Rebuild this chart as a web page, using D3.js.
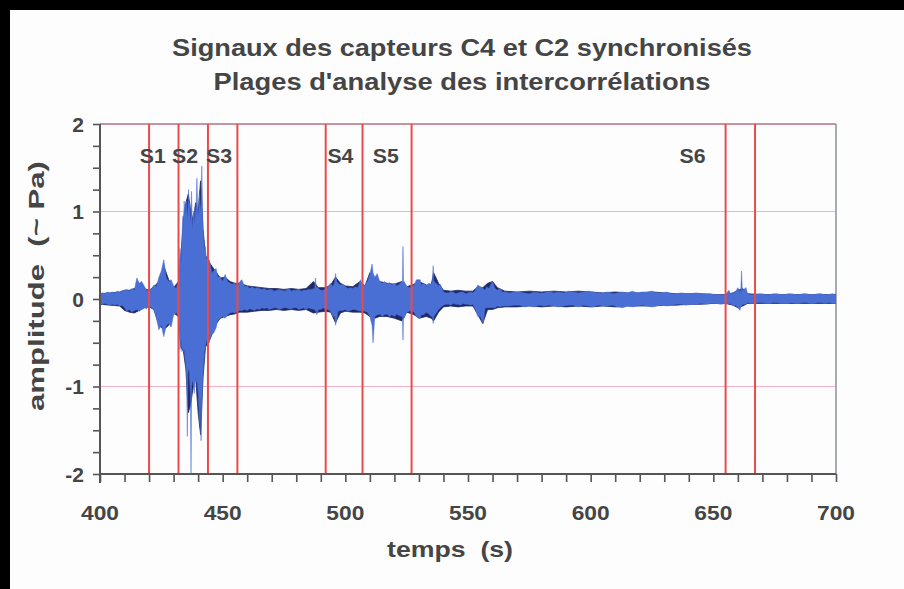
<!DOCTYPE html>
<html><head><meta charset="utf-8">
<script src="https://cdn.jsdelivr.net/npm/d3@7"></script>
<style>
html,body{margin:0;padding:0;background:#fdfdfd;width:904px;height:589px;overflow:hidden;}
svg{display:block;position:absolute;left:0;top:0;}
text{font-family:"Liberation Sans",Arial,sans-serif;font-weight:bold;fill:#454545;white-space:pre;}
</style></head><body>
<svg id="c" width="904" height="589"></svg>
<script>
// ---- data ----
const titleLines = ["Signaux des capteurs C4 et C2 synchronisés", "Plages d'analyse des intercorrélations"];
const xLabel = "temps  (s)";
const yLabel = "amplitude  (~ Pa)";
const xTickLabels = [400, 450, 500, 550, 600, 650, 700];
const yTickLabels = [-2, -1, 0, 1, 2];
const rangeBounds = [420, 432, 444, 456, 492, 507, 527, 655, 667];
const rangeNames = ["S1", "S2", "S3", "S4", "S5", "S6"];
const rangeNamePos = [421.5, 434.7, 448.5, 498, 516.5, 641.5];

// C2 (blue) signal envelope: [time (s), max, min] amplitude (Pa)
const blueSignal = [
 [400,.06,-.05],[401,.07,-.06],[402,.06,-.05],[403,.08,-.06],[404,.07,-.07],[405,.08,-.06],[406,.07,-.07],[407,.09,-.06],
 [408,.08,-.08],[409,.09,-.07],[410,.1,-.1],[411,.11,-.14],[412,.09,-.12],[413,.12,-.15],[414,.1,-.13],[415,.24,-.12],
 [416,.18,-.14],[417,.2,-.12],[418,.15,-.1],[419,.1,-.11],[420,.09,-.08],[421,.12,-.1],[422,.16,-.13],[423,.14,-.22],
 [424,.25,-.35],[425,.32,-.3],[426,.45,-.43],[427,.24,-.3],[428,.2,-.28],[429,.22,-.32],[430,.15,-.18],[431,.12,-.16],
 [432.0,.2,-.18],[432.3,.35,-.3],[432.6,.58,-.58],[433.0,.4,-.45],[433.4,.7,-.6],[433.8,.95,-.55],[434.0,.8,-.6],
 [434.3,1.12,-.58],[434.7,.95,-.69],[435.0,1.1,-.75],[435.3,1.12,-.9],[435.6,.9,-1.57],[435.8,1.0,-.85],[436.1,1.25,-.8],
 [436.3,1.0,-.8],[436.6,1.1,-.95],[436.9,.85,-1.1],[437.1,.95,-1.99],[437.3,1.23,-1.0],[437.6,.9,-.95],[437.8,.8,-.93],
 [438.1,1.0,-1.0],[438.4,.85,-1.08],[438.7,1.05,-.95],[439.0,.9,-.9],[439.3,1.15,-.95],[439.5,1.38,-.93],[439.8,1.0,-1.0],
 [440.1,.95,-1.1],[440.5,1.2,-1.42],[440.8,1.0,-1.1],[441.2,1.1,-1.62],[441.5,1.52,-1.2],[441.9,.85,-.9],[442.2,.7,-.75],
 [442.6,.55,-.6],[442.9,.6,-.55],[443.3,.45,-.5],[443.7,.48,-.45],[444.1,.35,-.4],[444.5,.45,-.5],[444.9,.4,-.45],
 [445.6,.3,-.4],[446.3,.32,-.39],[447.3,.35,-.33],[448,.25,-.25],[448.9,.26,-.22],[450,.2,-.2],[451,.28,-.22],[452,.2,-.18],
 [453,.18,-.16],[454,.17,-.15],[455,.18,-.16],[456,.15,-.14],[457,.2,-.13],[457.8,.22,-.13],[459,.14,-.12],[460,.15,-.13],
 [461,.12,-.11],[462,.14,-.12],[463,.12,-.13],[464,.13,-.11],[465,.12,-.12],[466,.11,-.1],[467,.12,-.11],[468,.1,-.1],
 [469,.11,-.12],[470,.11,-.11],[471,.09,-.1],[472,.1,-.1],[473,.11,-.12],[474,.1,-.11],[475,.09,-.1],[476,.1,-.1],
 [477,.12,-.11],[478,.09,-.11],[479,.1,-.1],[480,.1,-.1],[481,.11,-.12],[482,.09,-.11],[483,.1,-.1],[484,.1,-.12],
 [485,.11,-.1],[486,.11,-.11],[487.5,.12,-.12],[487.8,.24,-.14],[488.1,.12,-.13],[488.4,.14,-.18],[489,.12,-.12],[490,.1,-.12],
 [491,.1,-.1],[492,.12,-.12],[493,.14,-.12],[493.9,.18,-.14],[495,.14,-.2],[495.7,.2,-.2],[496,.29,-.3],[496.5,.2,-.24],
 [497,.18,-.14],[498,.16,-.13],[499,.17,-.13],[500,.14,-.12],[501,.12,-.14],[502,.13,-.13],[503,.12,-.12],[504,.14,-.12],
 [505,.13,-.13],[506.2,.22,-.14],[507,.15,-.13],[508,.16,-.14],[509,.2,-.15],[510,.28,-.2],[510.9,.4,-.3],[511.3,.3,-.5],
 [512,.25,-.2],[513,.29,-.18],[514,.2,-.17],[515,.18,-.2],[516,.2,-.18],[517,.17,-.17],[518,.19,-.2],[519,.16,-.18],
 [520,.18,-.2],[521,.15,-.17],[522,.17,-.19],[523,.2,-.2],[523.3,.2,-.2],[523.5,.6,-.47],[523.7,.2,-.2],[524,.2,-.22],
 [525,.15,-.15],[526,.13,-.14],[527,.14,-.13],[528,.16,-.15],[529,.22,-.2],[530.5,.22,-.22],[531,.16,-.18],[532,.18,-.18],
 [533,.15,-.15],[534,.18,-.17],[535,.17,-.2],[535.5,.2,-.2],[535.8,.38,-.28],[536.1,.2,-.2],[537,.18,-.16],[538,.15,-.12],
 [538.7,.17,-.1],[540,.08,-.07],[541,.07,-.06],[542,.07,-.06],[543,.08,-.07],[544,.08,-.05],[545,.06,-.06],[546,.07,-.06],
 [547,.08,-.07],[548,.08,-.05],[549,.06,-.06],[550,.07,-.06],[551,.08,-.07],[552,.07,-.06],[553,.1,-.12],[554,.16,-.2],
 [555,.14,-.2],[556.2,.12,-.28],[557,.1,-.1],[557.6,.14,-.1],[558.5,.12,-.1],[559.9,.2,-.1],[561,.12,-.1],[562,.1,-.08],
 [563,.12,-.09],[564,.08,-.08],[565,.08,-.08],[567,.07,-.08],[569,.08,-.07],[571,.08,-.07],[573,.07,-.09],[575,.06,-.08],
 [577,.08,-.09],[579,.07,-.07],[581,.07,-.08],[583,.09,-.07],[585,.07,-.08],[587,.08,-.09],[589,.07,-.08],[591,.09,-.07],
 [593,.08,-.07],[595,.07,-.09],[597,.08,-.07],[599,.09,-.08],[601,.08,-.09],[603,.07,-.07],[605,.07,-.08],[607,.08,-.08],
 [609,.06,-.07],[611,.07,-.09],[613,.08,-.1],[615,.07,-.08],[617,.09,-.09],[619,.07,-.08],[621,.08,-.07],[623,.08,-.08],
 [625,.09,-.09],[627,.07,-.08],[629,.07,-.07],[631,.08,-.08],[633,.06,-.07],[635,.06,-.06],[637,.07,-.06],[639,.06,-.07],
 [641,.06,-.06],[643,.07,-.06],[645,.06,-.05],[647,.06,-.06],[649,.06,-.05],[651,.05,-.05],[653,.05,-.06],[655,.05,-.05],
 [656.3,.1,-.06],[657,.06,-.05],[658,.07,-.08],[659,.08,-.07],[660,.13,-.1],[660.9,.08,-.13],[661.2,.1,-.08],[661.5,.32,-.08],
 [661.8,.1,-.07],[662,.1,-.06],[663.3,.13,-.06],[664,.06,-.04],[665.5,.05,-.05],[667,.05,-.05],[668.5,.06,-.04],[670,.06,-.04],
 [671.5,.05,-.05],[673,.05,-.05],[674.5,.06,-.04],[676,.06,-.04],[677.5,.05,-.05],[679,.05,-.05],[680.5,.06,-.05],[682,.06,-.04],
 [683.5,.05,-.05],[685,.05,-.05],[686.5,.06,-.04],[688,.06,-.04],[689.5,.05,-.05],[691,.05,-.05],[692.5,.06,-.04],[694,.06,-.04],
 [695.5,.05,-.05],[697,.05,-.04],[698.5,.06,-.05],[700,.05,-.05]
];

// C4 (dark) signal envelope: [time (s), max, min]
const darkSignal = [
 [400,.06,-.06],[404,.07,-.07],[408,.08,-.08],[410,.1,-.13],[412,.1,-.15],[414,.12,-.16],[416,.15,-.13],[418,.12,-.1],
 [420,.1,-.09],[422,.14,-.12],[424,.2,-.3],[426,.38,-.35],[428,.22,-.3],[430,.13,-.16],[432,.2,-.2],[433,.5,-.55],
 [434,.9,-.6],[435,1.1,-.8],[436,1.2,-1.3],[437,1.0,-1.2],[438,.9,-1.0],[439,1.1,-.9],[440,1.0,-1.3],[441,1.35,-1.55],
 [442,.8,-.9],[443,.5,-.55],[445,.4,-.45],[447,.32,-.3],[449,.24,-.22],[451,.25,-.2],[453,.2,-.18],[455,.18,-.17],
 [457,.18,-.15],[460,.15,-.15],[463,.14,-.14],[466,.13,-.13],[469,.12,-.13],[472,.12,-.12],[475,.11,-.13],[478,.12,-.12],
 [481,.11,-.13],[484,.12,-.12],[487,.2,-.16],[489,.13,-.15],[492,.13,-.14],[494,.16,-.15],[496,.25,-.27],[498,.18,-.16],
 [500,.15,-.14],[503,.14,-.15],[506,.2,-.15],[508,.15,-.16],[510,.3,-.2],[512,.22,-.22],[514,.2,-.2],[517,.18,-.2],
 [520,.17,-.22],[523,.2,-.25],[525,.14,-.15],[528,.17,-.18],[530,.2,-.22],[533,.16,-.2],[535,.16,-.22],[536,.3,-.25],
 [538,.18,-.15],[540,.1,-.09],[543,.09,-.08],[546,.1,-.09],[549,.09,-.08],[552,.09,-.08],[554,.14,-.18],[556,.13,-.28],
 [558,.18,-.12],[560,.2,-.12],[562,.13,-.1],[565,.09,-.09],[570,.08,-.09],[575,.09,-.08],[580,.08,-.09],[585,.09,-.08],
 [590,.08,-.09],[595,.09,-.08],[600,.08,-.09],[605,.07,-.08],[610,.08,-.09],[615,.07,-.08],[620,.07,-.08],[625,.08,-.08],
 [630,.07,-.07],[635,.06,-.07],[640,.06,-.06],[645,.06,-.06],[650,.05,-.05],[655,.05,-.05],[658,.07,-.07],[660,.1,-.1],
 [662,.12,-.08],[664,.06,-.05],[670,.05,-.05],[680,.05,-.05],[690,.05,-.05],[700,.05,-.05]
];

// ---- drawing ----
const svg = d3.select("#c");
const W = 904, H = 589;
const m = {left: 100, right: 836, top: 124, bottom: 474};
const x = d3.scaleLinear().domain([400, 700]).range([m.left, m.right]);
const y = d3.scaleLinear().domain([-2, 2]).range([m.bottom, m.top]);

svg.append("rect").attr("width", W).attr("height", H).attr("fill", "#fdfdfd");
// black frame edges
svg.append("rect").attr("x", 0).attr("y", 0).attr("width", W).attr("height", 10).attr("fill", "#000");
svg.append("rect").attr("x", 0).attr("y", 0).attr("width", 10).attr("height", H).attr("fill", "#000");

// titles
const titleY = [56, 90];
const titleW = [580, 497];
titleLines.forEach((t, i) => {
  svg.append("text").attr("x", 462).attr("y", titleY[i]).attr("text-anchor", "middle")
    .attr("font-size", 23).attr("textLength", titleW[i]).attr("lengthAdjust", "spacingAndGlyphs").text(t);
});

// grid lines at +-1
svg.append("g").selectAll("line").data([1, -1]).join("line")
  .attr("x1", m.left).attr("x2", m.right).attr("y1", d => y(d)).attr("y2", d => y(d))
  .attr("stroke", "#f0b4c6").attr("stroke-width", 1);

// plot border (top/right)
svg.append("line").attr("x1", m.left).attr("x2", m.right).attr("y1", m.top).attr("y2", m.top)
  .attr("stroke", "#b07080").attr("stroke-width", 1.5);
svg.append("line").attr("x1", m.right).attr("x2", m.right).attr("y1", m.top).attr("y2", m.bottom)
  .attr("stroke", "#8a8f9a").attr("stroke-width", 1.5);

// signals
svg.append("clipPath").attr("id", "pc").append("rect")
  .attr("x", m.left).attr("y", m.top - 1).attr("width", m.right - m.left).attr("height", m.bottom - m.top + 2);
const area = d3.area().x(d => x(d[0])).y0(d => y(d[2])).y1(d => y(d[1]));
const sg = svg.append("g").attr("clip-path", "url(#pc)");
sg.append("path").attr("d", area(darkSignal)).attr("fill", "#1e2a66").attr("stroke", "#1e2a66").attr("stroke-width", 0.8);
sg.append("path").attr("d", area(blueSignal)).attr("fill", "#4a6fd4").attr("stroke", "#4a6fd4").attr("stroke-width", 0.5);

// range boundaries
svg.append("g").selectAll("line").data(rangeBounds).join("line")
  .attr("x1", d => x(d)).attr("x2", d => x(d)).attr("y1", m.top).attr("y2", m.bottom)
  .attr("stroke", "#ec4a4a").attr("stroke-width", 2);
svg.append("g").selectAll("text").data(rangeNames).join("text")
  .attr("x", (d, i) => x(rangeNamePos[i])).attr("y", 163).attr("text-anchor", "middle")
  .attr("font-size", 20).attr("textLength", 26).attr("lengthAdjust", "spacingAndGlyphs").text(d => d);

// axes
const yAxis = d3.axisLeft(y).tickValues(d3.range(-2, 2.001, 0.25)).tickSize(7).tickFormat("");
const gy = svg.append("g").attr("transform", `translate(${m.left},0)`).call(yAxis);
const xAxis = d3.axisBottom(x).tickValues(d3.range(400, 700.001, 10)).tickSize(8).tickFormat("");
const gx = svg.append("g").attr("transform", `translate(0,${m.bottom})`).call(xAxis);
[gx, gy].forEach(g => {
  g.select(".domain").attr("stroke", "#555").attr("stroke-width", 2);
  g.selectAll(".tick line").attr("stroke", "#555").attr("stroke-width", 1.6);
});
gx.select(".domain").attr("d", `M${m.left},0H${m.right}`);
gy.select(".domain").attr("d", `M0,${m.bottom + 9}V${m.top}`);

svg.append("g").selectAll("text").data(xTickLabels).join("text")
  .attr("x", d => x(d)).attr("y", 520).attr("text-anchor", "middle").attr("font-size", 21)
  .attr("textLength", 38).attr("lengthAdjust", "spacingAndGlyphs").text(d => d);
svg.append("g").selectAll("text").data(yTickLabels).join("text")
  .attr("x", 84).attr("y", d => y(d) + 7.5).attr("text-anchor", "end").attr("font-size", 21)
  .text(d => d);

svg.append("text").attr("x", 450).attr("y", 557).attr("text-anchor", "middle").attr("font-size", 22)
  .attr("textLength", 126).attr("lengthAdjust", "spacingAndGlyphs").text(xLabel);
svg.append("text").attr("transform", "translate(44,286) rotate(-90)").attr("text-anchor", "middle")
  .attr("font-size", 22).attr("textLength", 250).attr("lengthAdjust", "spacingAndGlyphs").text(yLabel);
</script>
</body></html>
